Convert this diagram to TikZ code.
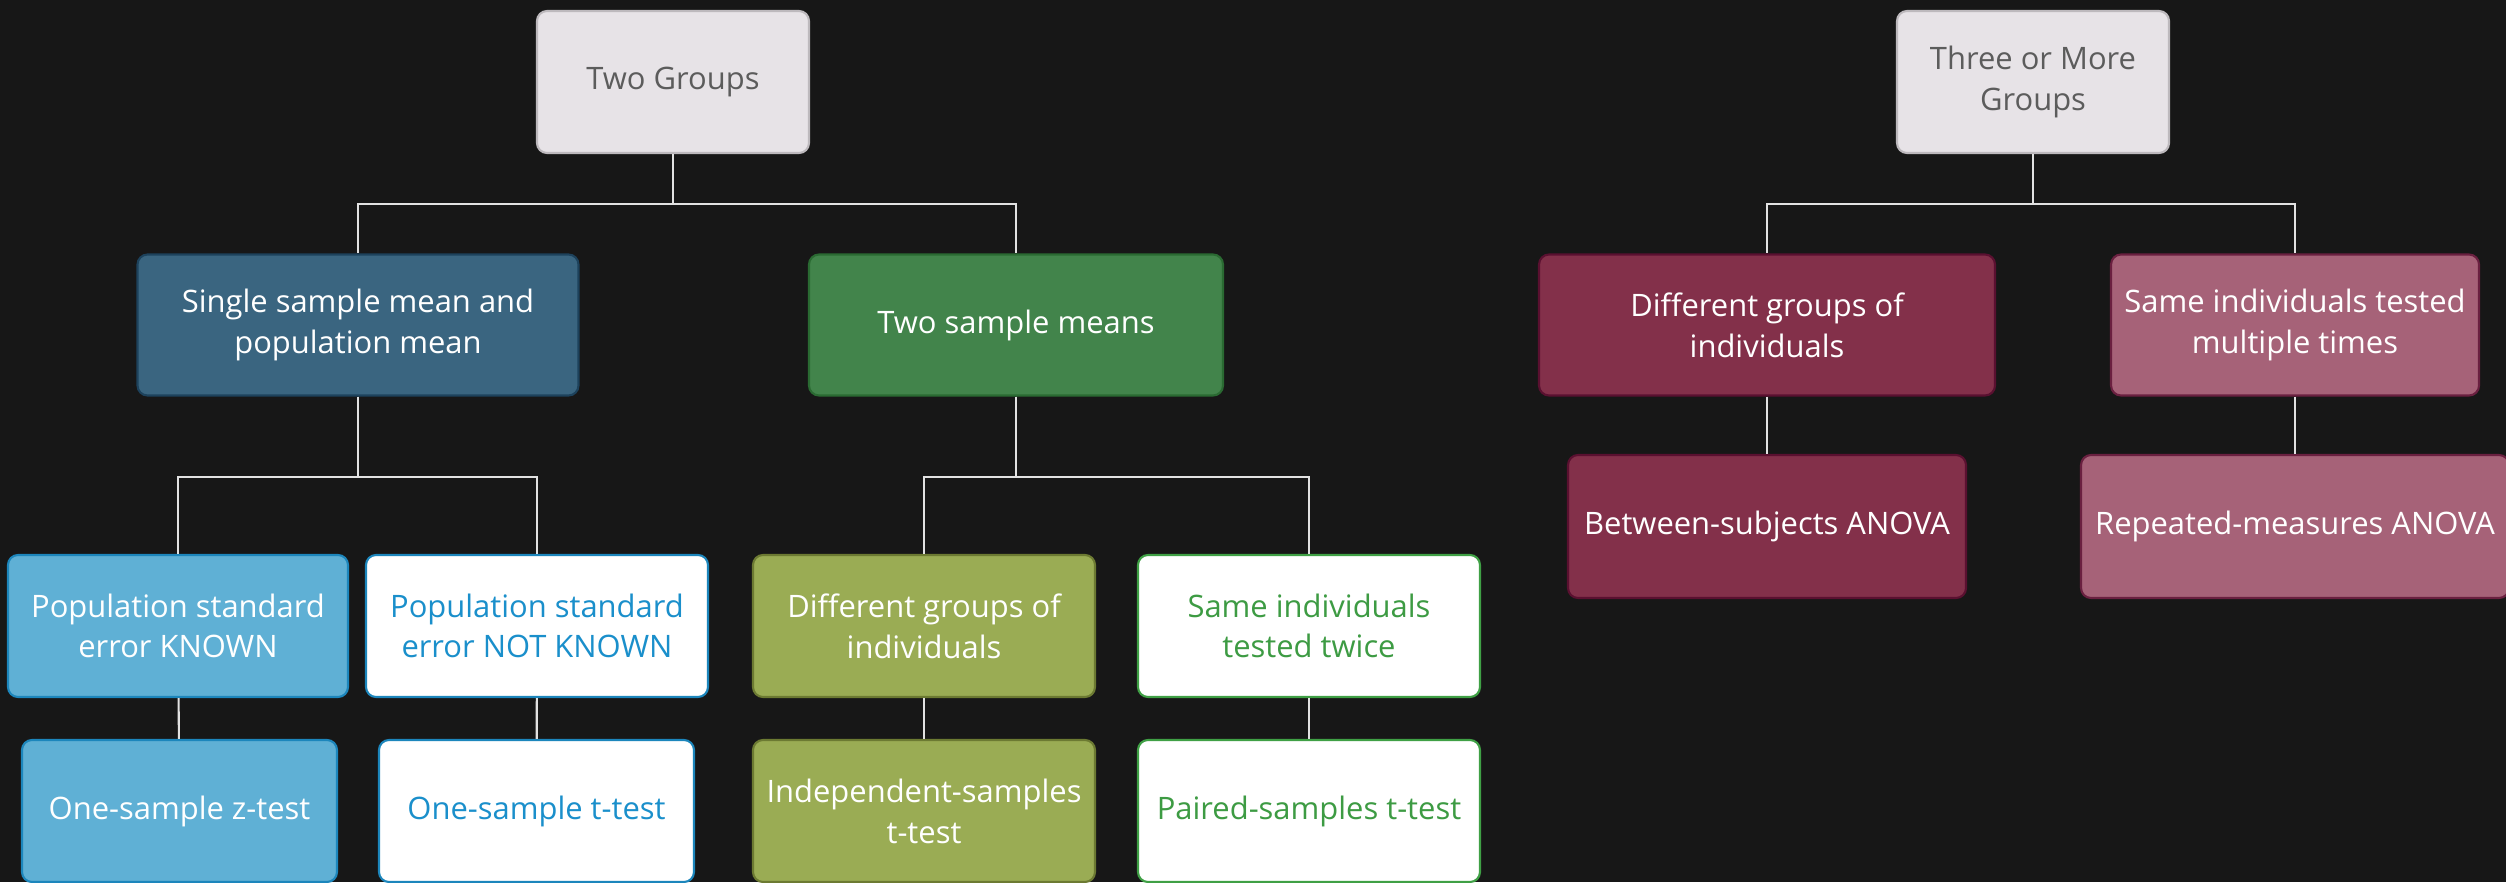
\documentclass[tikz,border=0pt]{standalone}
\usepackage{fontspec}
\setmainfont{Open Sans}
\definecolor{bgdark}{HTML}{171717}
\definecolor{linkcol}{HTML}{E2E2E2}
\definecolor{grayfill}{HTML}{E7E3E7}
\definecolor{grayline}{HTML}{BDB9BD}
\definecolor{graytext}{HTML}{5C5C5C}
\definecolor{navyfill}{HTML}{3A6580}
\definecolor{navyline}{HTML}{1D425C}
\definecolor{greenfill}{HTML}{42844B}
\definecolor{greenline}{HTML}{2A6A32}
\definecolor{skyfill}{HTML}{5FB0D5}
\definecolor{skyline}{HTML}{1C86BC}
\definecolor{skytext}{HTML}{1A8FCB}
\definecolor{olivefill}{HTML}{9AAC54}
\definecolor{oliveline}{HTML}{6C7A32}
\definecolor{leafline}{HTML}{3FA045}
\definecolor{leaftext}{HTML}{3D9B43}
\definecolor{wine}{HTML}{83304A}
\definecolor{wineline}{HTML}{5A1030}
\definecolor{rose}{HTML}{A66278}
\definecolor{roseline}{HTML}{6A2040}
\tikzset{
  box/.style={draw, rounded corners=0.1cm, line width=0.6pt, align=center,
    inner sep=0pt, text=white, font=\fontsize{8.8}{11.6}\selectfont},
  graybox/.style={box, fill=grayfill, draw=grayline, text=graytext,
    minimum width=2.72cm, minimum height=1.42cm},
  link/.style={draw=linkcol, line width=0.6pt}
}

\begin{document}
\begin{tikzpicture}
    \fill[bgdark] (0,0) rectangle (25.06,8.82);
    \useasboundingbox (0,0) rectangle (25.06,8.82);
    % two groups
    \node[graybox] (tg) at (6.73,8.00) {Two Groups};
    \node[box,fill=navyfill,draw=navyline,minimum width=4.41cm,minimum height=1.41cm]
      (single) at (3.58,5.57) {Single sample mean and\\population mean};
    \node[box,fill=greenfill,draw=greenline,minimum width=4.14cm,minimum height=1.41cm]
      (twomeans) at (10.16,5.57) {Two sample means};
    \node[box,fill=skyfill,draw=skyline,minimum width=3.40cm,minimum height=1.42cm]
      (known) at (1.78,2.56) {Population standard\\error KNOWN};
    \node[box,fill=white,draw=skyline,text=skytext,minimum width=3.42cm,minimum height=1.42cm]
      (notknown) at (5.37,2.56) {Population standard\\error NOT KNOWN};
    \node[box,fill=olivefill,draw=oliveline,minimum width=3.42cm,minimum height=1.42cm]
      (diffolive) at (9.24,2.56) {Different groups of\\individuals};
    \node[box,fill=white,draw=leafline,text=leaftext,minimum width=3.42cm,minimum height=1.42cm]
      (twice) at (13.09,2.56) {Same individuals\\tested twice};
    \node[box,fill=skyfill,draw=skyline,minimum width=3.15cm,minimum height=1.42cm]
      (ztest) at (1.795,0.71) {One-sample z-test};
    \node[box,fill=white,draw=skyline,text=skytext,minimum width=3.15cm,minimum height=1.42cm]
      (ttest) at (5.365,0.71) {One-sample t-test};
    \node[box,fill=olivefill,draw=oliveline,minimum width=3.42cm,minimum height=1.42cm]
      (indep) at (9.24,0.71) {Independent-samples\\t-test};
    \node[box,fill=white,draw=leafline,text=leaftext,minimum width=3.42cm,minimum height=1.42cm]
      (paired) at (13.09,0.71) {Paired-samples t-test};
    \draw[link] (tg.south) -- ++(0,-0.5) -| (single.north);
    \draw[link] (tg.south) -- ++(0,-0.5) -| (twomeans.north);
    \draw[link] (single.south) -- ++(0,-0.8) -| (known.north);
    \draw[link] (single.south) -- ++(0,-0.8) -| (notknown.north);
    \draw[link] (twomeans.south) -- ++(0,-0.8) -| (diffolive.north);
    \draw[link] (twomeans.south) -- ++(0,-0.8) -| (twice.north);
    \draw[link] (known) -- (ztest);
    \draw[link] (notknown) -- (ttest);
    \draw[link] (diffolive) -- (indep);
    \draw[link] (twice) -- (paired);
    % three or more groups
    \node[graybox] (tm) at (20.33,8.00) {Three or More\\Groups};
    \node[box,fill=wine,draw=wineline,minimum width=4.56cm,minimum height=1.41cm]
      (diffwine) at (17.67,5.57) {Different groups of\\individuals};
    \node[box,fill=rose,draw=roseline,minimum width=3.68cm,minimum height=1.41cm]
      (multiple) at (22.95,5.57) {Same individuals tested\\multiple times};
    \node[box,fill=wine,draw=wineline,minimum width=3.98cm,minimum height=1.43cm]
      (between) at (17.67,3.555) {Between-subjects ANOVA};
    \node[box,fill=rose,draw=roseline,minimum width=4.28cm,minimum height=1.43cm]
      (repeated) at (22.95,3.555) {Repeated-measures ANOVA};
    \draw[link] (tm.south) -- ++(0,-0.5) -| (diffwine.north);
    \draw[link] (tm.south) -- ++(0,-0.5) -| (multiple.north);
    \draw[link] (diffwine) -- (between);
    \draw[link] (multiple) -- (repeated);
\end{tikzpicture}
\end{document}
